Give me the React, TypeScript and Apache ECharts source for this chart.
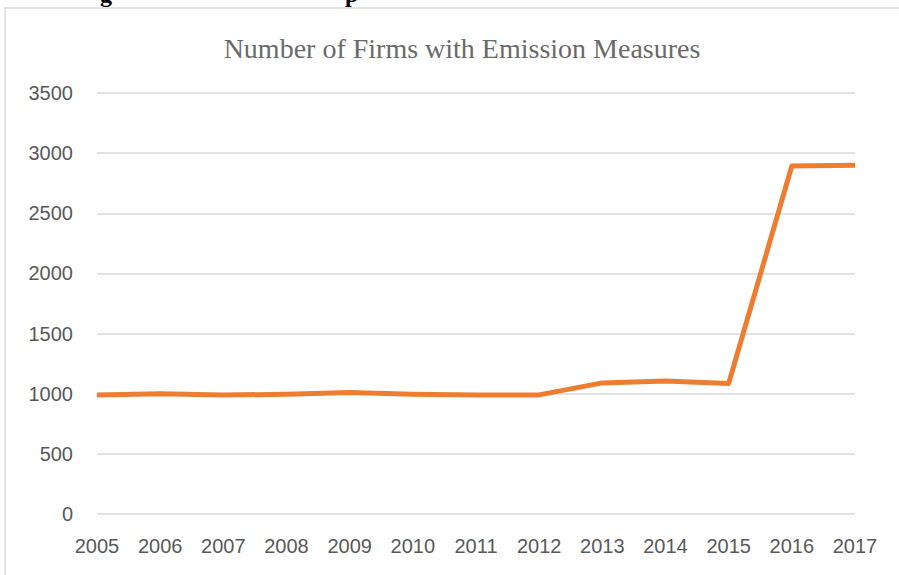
import React, { useEffect, useRef } from "react";
import * as echarts from "echarts";

const years = ["2005", "2006", "2007", "2008", "2009", "2010", "2011", "2012", "2013", "2014", "2015", "2016", "2017"];
const firms = [990, 1000, 990, 995, 1010, 995, 990, 990, 1090, 1105, 1085, 2893, 2900];
const chartTitle = "Number of Firms with Emission Measures";

export default function App() {
  const ref = useRef<HTMLDivElement>(null);
  useEffect(() => {
    if (!ref.current) return;
    const chart = echarts.init(ref.current, null, { renderer: "svg" });
    chart.setOption({
      animation: false,
      backgroundColor: "#ffffff",
      title: {
        text: chartTitle,
        left: 457,
        textAlign: "center",
        top: 29,
        textStyle: { fontFamily: "Liberation Serif", fontWeight: "normal", fontSize: 28, color: "#6a6a6a" },
      },
      graphic: [
        { type: "rect", shape: { x: 5, y: 8, width: 1000, height: 1000 }, style: { fill: "none", stroke: "#d9d9d9", lineWidth: 1.5 } },
        { type: "text", left: 100, top: -18, style: { text: "g", font: "bold 24px 'Liberation Serif'", fill: "#000" } },
        { type: "text", left: 345, top: -18, style: { text: "p", font: "bold 24px 'Liberation Serif'", fill: "#000" } },
      ],
      grid: { left: 97, right: 44, top: 93, bottom: 61 },
      xAxis: {
        type: "category",
        data: years,
        boundaryGap: false,
        axisLine: { show: false },
        axisTick: { show: false },
        axisLabel: { margin: 22, fontFamily: "Liberation Sans", fontSize: 20, color: "#595959" },
      },
      yAxis: {
        type: "value",
        min: 0,
        max: 3500,
        interval: 500,
        axisLine: { show: false },
        axisTick: { show: false },
        splitLine: { lineStyle: { color: "#d9d9d9", width: 1.5 } },
        axisLabel: { margin: 24, fontFamily: "Liberation Sans", fontSize: 20, color: "#595959", formatter: (v: number) => String(v) },
      },
      series: [
        {
          type: "line",
          data: firms,
          symbol: "none",
          lineStyle: { color: "#ED7D31", width: 5, join: "round" },
        },
      ],
    });
    return () => chart.dispose();
  }, []);
  return <div ref={ref} style={{ position: "fixed", left: 0, top: 0, width: 899, height: 575 }} />;
}
